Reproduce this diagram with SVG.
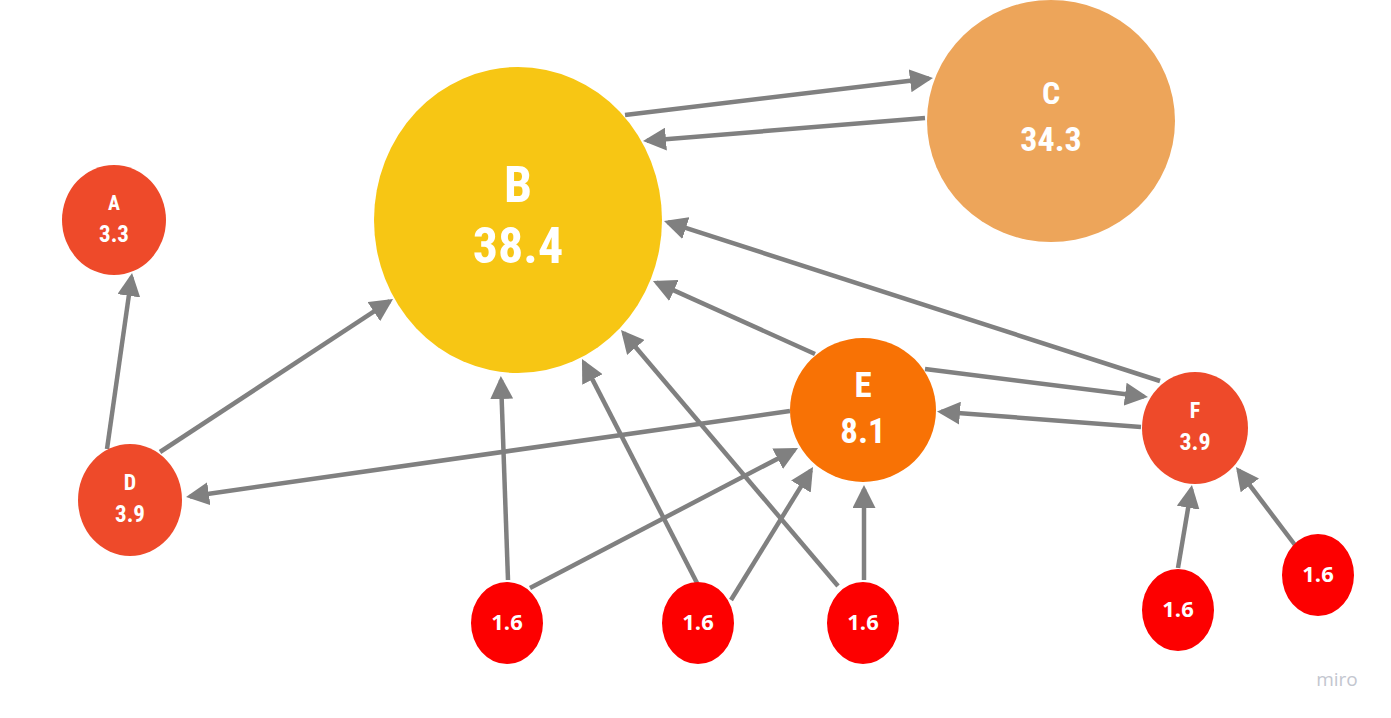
<svg xmlns="http://www.w3.org/2000/svg" width="1391" height="718" viewBox="0 0 1391 718">
<defs>
<marker id="ah" markerUnits="userSpaceOnUse" markerWidth="23" markerHeight="23" refX="19" refY="11.5" orient="auto">
<path d="M0,0 L23,11.5 L0,23 z" fill="#808080"/>
</marker>
<style>
.e{stroke:#808080;stroke-width:4.5;fill:none;marker-end:url(#ah)}
.t{font-family:Roboto,"Liberation Sans",sans-serif;font-weight:700;fill:#fff;text-anchor:middle;font-stretch:condensed}
.s{font-family:"Open Sans","Noto Sans",sans-serif;font-weight:700;fill:#fff;text-anchor:middle;font-size:22px}
.small{fill:#fd0000}
.red{fill:#ee4a2a}
</style>
</defs>
<rect width="1391" height="718" fill="#fff"/>
<g id="connectors">
<line class="e" x1="625" y1="115" x2="929" y2="78.5"/>
<line class="e" x1="925" y1="118" x2="647" y2="140.7"/>
<line class="e" x1="1160" y1="381" x2="667.8" y2="222.2"/>
<line class="e" x1="815" y1="354" x2="656.6" y2="282.6"/>
<line class="e" x1="160" y1="452" x2="389.7" y2="301.2"/>
<line class="e" x1="107" y1="449" x2="131.5" y2="277"/>
<line class="e" x1="790" y1="411" x2="190" y2="496.4"/>
<line class="e" x1="925" y1="369" x2="1144" y2="396.5"/>
<line class="e" x1="1141" y1="427" x2="941" y2="411.7"/>
<line class="e" x1="508" y1="580" x2="501" y2="380"/>
<line class="e" x1="530" y1="588" x2="794.5" y2="449.9"/>
<line class="e" x1="697" y1="583" x2="583.8" y2="362.6"/>
<line class="e" x1="731" y1="600" x2="810.9" y2="470.4"/>
<line class="e" x1="838" y1="586" x2="623.6" y2="333"/>
<line class="e" x1="864" y1="580" x2="864" y2="489"/>
<line class="e" x1="1178" y1="568" x2="1191.3" y2="489"/>
<line class="e" x1="1295" y1="545" x2="1238.4" y2="470.2"/>
</g>
<g id="node-B">
<ellipse cx="518" cy="220" rx="144" ry="153" fill="#f7c614"/>
<text class="t" x="518" y="202" font-size="50">B</text>
<text class="t" x="518" y="263" font-size="50">38.4</text>
</g>
<g id="node-C">
<ellipse cx="1051" cy="121" rx="124" ry="121" fill="#eda55a"/>
<text class="t" x="1051" y="104" font-size="32">C</text>
<text class="t" x="1051" y="151" font-size="34">34.3</text>
</g>
<g id="node-A">
<ellipse cx="114" cy="220" rx="52" ry="55" class="red"/>
<text class="t" x="114" y="210" font-size="20">A</text>
<text class="t" x="114" y="242" font-size="23">3.3</text>
</g>
<g id="node-D">
<ellipse cx="130" cy="500" rx="52" ry="56" class="red"/>
<text class="t" x="130" y="490" font-size="22">D</text>
<text class="t" x="130" y="522" font-size="23">3.9</text>
</g>
<g id="node-E">
<ellipse cx="863" cy="410" rx="73" ry="72" fill="#f87205"/>
<text class="t" x="863" y="397" font-size="35">E</text>
<text class="t" x="863" y="443" font-size="35">8.1</text>
</g>
<g id="node-F">
<ellipse cx="1195" cy="428" rx="53" ry="56" class="red"/>
<text class="t" x="1195" y="418" font-size="22">F</text>
<text class="t" x="1195" y="450" font-size="24">3.9</text>
</g>
<g id="node-s1">
<ellipse cx="507" cy="623" rx="36" ry="41" class="small"/>
<text class="s" x="507" y="630">1.6</text>
</g>
<g id="node-s2">
<ellipse cx="698" cy="623" rx="36" ry="41" class="small"/>
<text class="s" x="698" y="630">1.6</text>
</g>
<g id="node-s3">
<ellipse cx="863" cy="623" rx="36" ry="41" class="small"/>
<text class="s" x="863" y="630">1.6</text>
</g>
<g id="node-s4">
<ellipse cx="1178" cy="610" rx="36" ry="41" class="small"/>
<text class="s" x="1178" y="617">1.6</text>
</g>
<g id="node-s5">
<ellipse cx="1318" cy="575" rx="36" ry="41" class="small"/>
<text class="s" x="1318" y="582">1.6</text>
</g>
<text x="1337" y="686" font-family="'Open Sans','Noto Sans',sans-serif" font-size="19" fill="#c3c6cf" text-anchor="middle">miro</text>
</svg>
